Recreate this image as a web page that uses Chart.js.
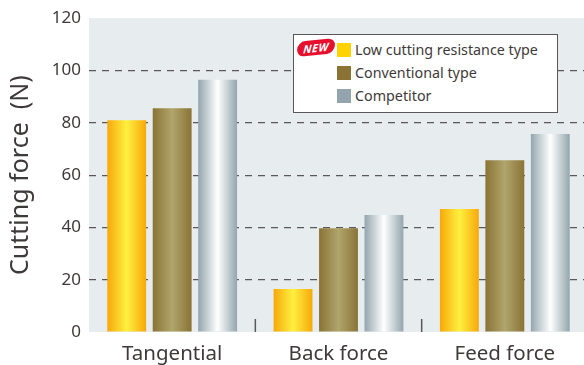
<!DOCTYPE html>
<html>
<head>
<meta charset="utf-8">
<script src="https://cdn.jsdelivr.net/npm/chart.js@4"></script>
<style>
    html, body { margin: 0; padding: 0; background: #fff; overflow: hidden; width: 584px; height: 365px; }
    #wrap { position: relative; width: 588px; height: 365px; }
    #legend {
        position: absolute; left: 293px; top: 34px; width: 263px; height: 77px;
        background: #fff; border: 1.5px solid #595757;
        font: 14.3px "Noto Sans", sans-serif; color: #3e3a39;
    }
    .row { position: absolute; left: 43px; height: 14px; line-height: 14px; white-space: nowrap; }
    .row i { display: inline-block; width: 14px; height: 14px; margin-right: 4px; vertical-align: top; }
    #badge {
        position: absolute; left: 3px; top: 5px; width: 38px; height: 15px; border-radius: 8px;
        background: #e60f2d; color: #fff; transform: rotate(-6deg) skewX(-10deg);
        font: italic bold 11px/15px "Noto Sans", sans-serif; text-align: center; letter-spacing: 0.5px;
    }
</style>
</head>
<body>
<div id="wrap">
    <canvas id="forceChart" width="588" height="365"></canvas>
    <div id="legend"><div id="badge">NEW</div></div>
</div>
<script>
const categories = ['Tangential', 'Back force', 'Feed force'];
const seriesNames = ['Low cutting resistance type', 'Conventional type', 'Competitor'];
const lowResistance = [81, 16.4, 47];
const conventional = [85.6, 39.7, 65.7];
const competitor = [96.5, 44.7, 75.7];
const yTicks = [0, 20, 40, 60, 80, 100, 120];

const swatchColors = ['#ffd200', '#8a7335', '#93a5ae'];
const gradientStops = [
    ['#f7a80a', '#fff040', '#f7a80a'],
    ['#8a7335', '#b0a56c', '#8a7335'],
    ['#93a5ae', '#ffffff', '#93a5ae']
];
const textColor = '#3e3a39';
const fontName = '"Noto Sans", sans-serif';
const groupPercent = 0.82;
const barPercent = 0.855;

// Legenda em HTML, o quadro fica dentro da area do grafico
const legend = document.getElementById('legend');
seriesNames.forEach((name, i) => {
    const row = document.createElement('div');
    row.className = 'row';
    row.style.top = (8 + i * 23) + 'px';
    const swatch = document.createElement('i');
    swatch.style.background = swatchColors[i];
    row.appendChild(swatch);
    row.appendChild(document.createTextNode(name));
    legend.appendChild(row);
});

function barGradient(context) {
    const chart = context.chart;
    const stops = gradientStops[context.datasetIndex];
    if (!chart.chartArea) return stops[0];
    const xScale = chart.scales.x;
    const step = xScale.width / categories.length;
    const slot = step * groupPercent / seriesNames.length;
    const barWidth = slot * barPercent;
    const left = xScale.getPixelForValue(context.dataIndex) - step * groupPercent / 2
        + context.datasetIndex * slot + (slot - barWidth) / 2;
    const grad = chart.ctx.createLinearGradient(left, 0, left + barWidth, 0);
    grad.addColorStop(0, stops[0]);
    grad.addColorStop(0.5, stops[1]);
    grad.addColorStop(1, stops[2]);
    return grad;
}

const plotExtras = {
    id: 'plotExtras',
    beforeDraw(chart) {
        const { ctx, chartArea } = chart;
        ctx.save();
        ctx.fillStyle = '#e7ecef';
        ctx.fillRect(chartArea.left, chartArea.top, chartArea.width, chartArea.height);
        ctx.restore();
    },
    afterDatasetsDraw(chart) {
        // Pequenos tracos separando os grupos
        const { ctx, chartArea, scales } = chart;
        ctx.save();
        ctx.strokeStyle = '#595757';
        ctx.lineWidth = 1.5;
        for (let i = 0; i < categories.length - 1; i++) {
            const x = (scales.x.getPixelForValue(i) + scales.x.getPixelForValue(i + 1)) / 2;
            ctx.beginPath();
            ctx.moveTo(x, chartArea.bottom - 13);
            ctx.lineTo(x, chartArea.bottom);
            ctx.stroke();
        }
        ctx.restore();
    }
};

new Chart(document.getElementById('forceChart'), {
    type: 'bar',
    data: {
        labels: categories,
        datasets: [lowResistance, conventional, competitor].map((values, i) => ({
            label: seriesNames[i],
            data: values,
            backgroundColor: barGradient,
            categoryPercentage: groupPercent,
            barPercentage: barPercent
        }))
    },
    options: {
        responsive: false,
        animation: false,
        layout: { padding: { top: 18 } },
        plugins: { legend: { display: false }, tooltip: { enabled: false } },
        scales: {
            x: {
                grid: { display: false },
                border: { display: false },
                ticks: { color: textColor, font: { family: fontName, size: 20.5 }, padding: 2, maxRotation: 0 },
                afterFit: (scale) => { scale.height = 33; }
            },
            y: {
                min: 0,
                max: 120,
                afterBuildTicks: (scale) => { scale.ticks = yTicks.map((value) => ({ value })); },
                grid: {
                    color: (c) => (c.tick.value === 0 || c.tick.value === 120 ? 'rgba(0,0,0,0)' : '#595757'),
                    lineWidth: 1.2,
                    drawTicks: false
                },
                border: { display: false, dash: [7, 6] },
                ticks: { color: textColor, font: { family: fontName, size: 17 }, padding: 8 },
                title: {
                    display: true,
                    text: 'Cutting force  (N)',
                    color: textColor,
                    font: { family: fontName, size: 25 },
                    padding: { top: 6, bottom: 0 }
                },
                afterFit: (scale) => { scale.width = 89; }
            }
        }
    },
    plugins: [plotExtras]
});
</script>
</body>
</html>
